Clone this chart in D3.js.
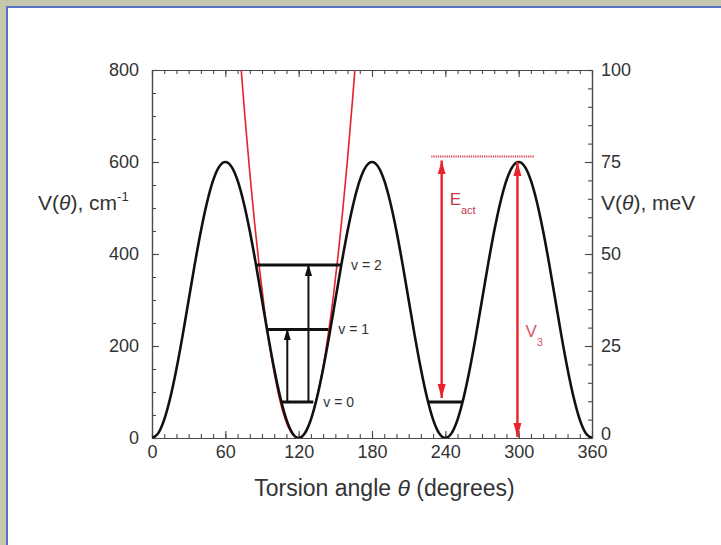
<!DOCTYPE html>
<html>
<head>
<meta charset="utf-8">
<script src="https://cdn.jsdelivr.net/npm/d3@7"></script>
<style>
  html, body { margin: 0; padding: 0; background: #fff; }
  svg { display: block; font-family: "Liberation Sans", Arial, sans-serif; }
</style>
</head>
<body>
<svg id="chart" width="721" height="545"></svg>
<script>
// Torsional potential V(θ) of a threefold rotor, with harmonic well and levels

const thetaTicks = [0, 60, 120, 180, 240, 300, 360];
const cmTicks = [0, 200, 400, 600, 800];
const meVTicks = [0, 25, 50, 75, 100];

// potential energy (cm^-1) sampled every 5 degrees
const curveTheta = [
  0, 5, 10, 15, 20, 25, 30, 35, 40, 45, 50, 55, 60, 65, 70, 75, 80, 85, 90, 95, 100, 105, 110, 115, 120,
  125, 130, 135, 140, 145, 150, 155, 160, 165, 170, 175, 180, 185, 190, 195, 200, 205, 210, 215, 220, 225, 230, 235, 240,
  245, 250, 255, 260, 265, 270, 275, 280, 285, 290, 295, 300, 305, 310, 315, 320, 325, 330, 335, 340, 345, 350, 355, 360
];
const curveV = [
  0, 10, 40, 88, 150, 222, 300, 378, 450, 512, 560, 590, 600, 590, 560, 512, 450, 378, 300, 222, 150, 88, 40, 10, 0,
  10, 40, 88, 150, 222, 300, 378, 450, 512, 560, 590, 600, 590, 560, 512, 450, 378, 300, 222, 150, 88, 40, 10, 0,
  10, 40, 88, 150, 222, 300, 378, 450, 512, 560, 590, 600, 590, 560, 512, 450, 378, 300, 222, 150, 88, 40, 10, 0
];

// harmonic approximation of the well at 120 degrees
const harmonicTheta = [72, 76, 80, 84, 88, 92, 96, 100, 104, 108, 112, 116, 120, 124, 128, 132, 136, 140, 144, 148, 152, 156, 160, 164, 168];
const harmonicV = [835, 700, 577, 466, 367, 280, 204, 141, 89, 49, 21, 4.5, 0.1, 7.5, 27, 58, 101, 155, 222, 300, 391, 493, 607, 733, 870];

// torsional levels in the 120-degree well
const levelNames = ["v = 0", "v = 1", "v = 2"];
const levelV = [78, 236, 376];
const levelFrom = [106, 94.4, 84.3];
const levelTo = [132, 144.3, 154.7];

// transitions out of v = 0
const transitionTheta = [110.7, 128];
const transitionTo = [236, 376];

// barrier quantities
const groundLevel240 = { from: 225, to: 254, v: 78 };
const barrierTop = 612;
const barrierLine = { from: 228.5, to: 313 };
const eactTheta = 237;
const v3Theta = 299;
const v3Value = 600;

const svg = d3.select("#chart");
const W = 721, H = 545;

// page frame
svg.append("rect").attr("x", 0).attr("y", 0).attr("width", W).attr("height", H).attr("fill", "#c6c6ae");
svg.append("rect").attr("x", 6).attr("y", 6).attr("width", W - 6).attr("height", H - 6).attr("fill", "#5673bd");
svg.append("rect").attr("x", 8).attr("y", 8).attr("width", W - 8).attr("height", H - 8).attr("fill", "#ffffff");

const x = d3.scaleLinear().domain([0, 360]).range([152, 592]);
const y = d3.scaleLinear().domain([0, 800]).range([438, 70]);
const yR = d3.scaleLinear().domain([0, 100]).range([438, 70]);

const axisColor = "#4a4a4a";
const textColor = "#333333";

const defs = svg.append("defs");
defs.append("clipPath").attr("id", "plotClip")
  .append("rect")
  .attr("x", x(0)).attr("y", y(800))
  .attr("width", x(360) - x(0)).attr("height", y(0) - y(800));

defs.append("marker")
  .attr("id", "blackHead")
  .attr("viewBox", "0 -5 12 10")
  .attr("refX", 12).attr("refY", 0)
  .attr("markerUnits", "userSpaceOnUse")
  .attr("markerWidth", 12).attr("markerHeight", 10)
  .attr("orient", "auto")
  .append("path").attr("d", "M0,-3.6L12,0L0,3.6Z").attr("fill", "#111");

defs.append("marker")
  .attr("id", "redHead")
  .attr("viewBox", "0 -5 14 10")
  .attr("refX", 14).attr("refY", 0)
  .attr("markerUnits", "userSpaceOnUse")
  .attr("markerWidth", 14).attr("markerHeight", 10)
  .attr("orient", "auto-start-reverse")
  .append("path").attr("d", "M0,-4L14,0L0,4Z").attr("fill", "#e8232c");

// axes: ticks point into the plot on all four sides
function styleAxis(g) {
  g.selectAll("path.domain").attr("stroke", axisColor).attr("stroke-width", 1.2);
  g.selectAll(".tick line").attr("stroke", axisColor).attr("stroke-width", 1.1);
  g.selectAll("text").attr("fill", textColor).attr("font-size", 18)
    .attr("font-family", "Liberation Sans, Arial, sans-serif");
}

const minorTheta = d3.range(0, 361, 10);
const minorCm = d3.range(0, 801, 50);
const minorMeV = d3.range(0, 101, 5);

// minor ticks
svg.append("g").attr("transform", `translate(0,${y(0)})`)
  .call(d3.axisBottom(x).tickValues(minorTheta).tickFormat("").tickSize(-4).tickSizeOuter(0)).call(styleAxis);
svg.append("g").attr("transform", `translate(0,${y(800)})`)
  .call(d3.axisTop(x).tickValues(minorTheta).tickFormat("").tickSize(-4).tickSizeOuter(0)).call(styleAxis);
svg.append("g").attr("transform", `translate(${x(0)},0)`)
  .call(d3.axisLeft(y).tickValues(minorCm).tickFormat("").tickSize(-4).tickSizeOuter(0)).call(styleAxis);
svg.append("g").attr("transform", `translate(${x(360)},0)`)
  .call(d3.axisRight(yR).tickValues(minorMeV).tickFormat("").tickSize(-4).tickSizeOuter(0)).call(styleAxis);

// major ticks and labels
svg.append("g").attr("transform", `translate(0,${y(0)})`)
  .call(d3.axisBottom(x).tickValues(thetaTicks).tickFormat(d3.format("d")).tickSize(-7).tickPadding(7).tickSizeOuter(0))
  .call(styleAxis);
svg.append("g").attr("transform", `translate(0,${y(800)})`)
  .call(d3.axisTop(x).tickValues(thetaTicks).tickFormat("").tickSize(-7).tickSizeOuter(0))
  .call(styleAxis);
svg.append("g").attr("transform", `translate(${x(0)},0)`)
  .call(d3.axisLeft(y).tickValues(cmTicks).tickFormat(d3.format("d")).tickSize(-7).tickPadding(13).tickSizeOuter(0))
  .call(styleAxis);
const rightAxis = svg.append("g").attr("transform", `translate(${x(360)},0)`)
  .call(d3.axisRight(yR).tickValues(meVTicks).tickFormat(d3.format("d")).tickSize(-7).tickPadding(9).tickSizeOuter(0))
  .call(styleAxis);
// the right-hand zero sits just above the 360 label
rightAxis.selectAll(".tick").filter(d => d === 0).select("text").attr("dy", "0.1em");

// axis titles
const xTitle = svg.append("text")
  .attr("x", 384.5).attr("y", 496)
  .attr("text-anchor", "middle")
  .attr("font-size", 23).attr("fill", textColor);
xTitle.append("tspan").text("Torsion angle ");
xTitle.append("tspan").attr("font-style", "italic").text("θ");
xTitle.append("tspan").text(" (degrees)");

function vTitle(xPos, yPos, unit, sup) {
  const t = svg.append("text").attr("x", xPos).attr("y", yPos)
    .attr("font-size", 21).attr("fill", textColor);
  t.append("tspan").text("V(");
  t.append("tspan").attr("font-style", "italic").text("θ");
  t.append("tspan").text("),  " + unit);
  if (sup) t.append("tspan").attr("font-size", 13).attr("dy", -9).text(sup);
}
vTitle(38, 210, "cm", "-1");
vTitle(601, 210, "meV", null);

// curves
const plot = svg.append("g").attr("clip-path", "url(#plotClip)");

const line = d3.line().x(d => x(d[0])).y(d => y(d[1])).curve(d3.curveMonotoneX);

plot.append("path")
  .datum(d3.zip(harmonicTheta, harmonicV))
  .attr("d", d3.line().x(d => x(d[0])).y(d => y(d[1])).curve(d3.curveCatmullRom))
  .attr("fill", "none").attr("stroke", "#e5222b").attr("stroke-width", 1.6);

plot.append("path")
  .datum(d3.zip(curveTheta, curveV))
  .attr("d", line)
  .attr("fill", "none").attr("stroke", "#111").attr("stroke-width", 2.6);

// energy levels
const levels = d3.range(levelV.length).map(i => ({
  name: levelNames[i], v: levelV[i], from: levelFrom[i], to: levelTo[i]
}));

svg.append("g").selectAll("line").data(levels).join("line")
  .attr("x1", d => x(d.from)).attr("x2", d => x(d.to))
  .attr("y1", d => y(d.v)).attr("y2", d => y(d.v))
  .attr("stroke", "#111").attr("stroke-width", 3);

svg.append("g").selectAll("text").data(levels).join("text")
  .attr("x", d => x(d.to) + 10).attr("y", d => y(d.v) + 5)
  .attr("font-size", 14).attr("fill", textColor)
  .text(d => d.name);

// transitions
svg.append("g").selectAll("line").data(d3.zip(transitionTheta, transitionTo)).join("line")
  .attr("x1", d => x(d[0])).attr("x2", d => x(d[0]))
  .attr("y1", y(levelV[0]) - 1).attr("y2", d => y(d[1]) - 1)
  .attr("stroke", "#111").attr("stroke-width", 2)
  .attr("marker-end", "url(#blackHead)");

// ground level in the 240-degree well
svg.append("line")
  .attr("x1", x(groundLevel240.from)).attr("x2", x(groundLevel240.to))
  .attr("y1", y(groundLevel240.v)).attr("y2", y(groundLevel240.v))
  .attr("stroke", "#111").attr("stroke-width", 3);

// barrier top (dotted)
svg.append("line")
  .attr("x1", x(barrierLine.from)).attr("x2", x(barrierLine.to))
  .attr("y1", y(barrierTop)).attr("y2", y(barrierTop))
  .attr("stroke", "#dc3a46").attr("stroke-width", 2).attr("stroke-dasharray", "1.2,1");

// activation energy arrow
svg.append("line")
  .attr("x1", x(eactTheta)).attr("x2", x(eactTheta))
  .attr("y1", y(groundLevel240.v) - 4).attr("y2", y(barrierTop) + 4)
  .attr("stroke", "#e8232c").attr("stroke-width", 2.4)
  .attr("marker-start", "url(#redHead)").attr("marker-end", "url(#redHead)");

// barrier height arrow
svg.append("line")
  .attr("x1", x(v3Theta)).attr("x2", x(v3Theta))
  .attr("y1", y(0) - 1).attr("y2", y(v3Value))
  .attr("stroke", "#e8232c").attr("stroke-width", 2.4)
  .attr("marker-start", "url(#redHead)").attr("marker-end", "url(#redHead)");

const eLabel = svg.append("text").attr("x", x(eactTheta) + 8).attr("y", 205)
  .attr("font-size", 17).attr("fill", "#c23a48");
eLabel.append("tspan").text("E");
eLabel.append("tspan").attr("font-size", 11).attr("dy", 9).text("act");

const vLabel = svg.append("text").attr("x", x(v3Theta) + 8).attr("y", 337)
  .attr("font-size", 17).attr("fill", "#e0505c");
vLabel.append("tspan").text("V");
vLabel.append("tspan").attr("font-size", 11).attr("dy", 9).text("3");
</script>
</body>
</html>
